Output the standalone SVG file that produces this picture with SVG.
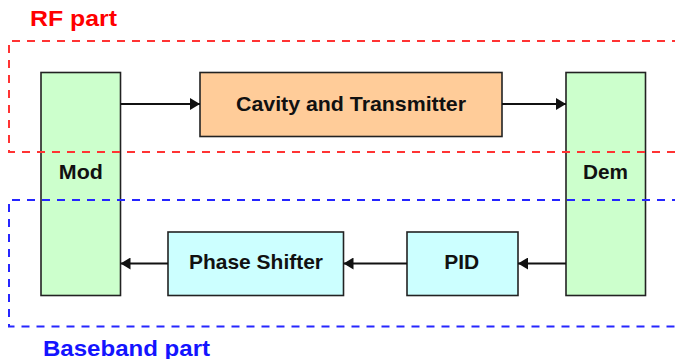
<svg xmlns="http://www.w3.org/2000/svg" width="675" height="359" viewBox="0 0 675 359">
  <style>
    .box { stroke: #222; stroke-width: 1.6; }
    .mod { fill: #CCFFCC; }
    .cav { fill: #FFCC99; }
    .bb { fill: #CCFFFF; }
    .lbl { font-family: "Liberation Sans", Arial, sans-serif; font-weight: bold; font-size: 20.5px; fill: #111; text-anchor: middle; }
    .title { font-family: "Liberation Sans", Arial, sans-serif; font-weight: bold; font-size: 22px; }
    .wire { stroke: #111; stroke-width: 2; fill: none; marker-end: url(#arrow); }
    .zone { fill: none; stroke-width: 2; stroke-dasharray: 8 7; }
  </style>
  <defs>
    <marker id="arrow" viewBox="0 0 10 12" refX="10" refY="6" markerWidth="10" markerHeight="12" markerUnits="userSpaceOnUse" orient="auto">
      <path d="M0,0 L10,6 L0,12 Z" fill="#111"/>
    </marker>
  </defs>
  <rect width="675" height="359" fill="#fff"/>

  <g id="mod">
    <rect class="box mod" x="41" y="72.5" width="79.5" height="223"/>
    <text class="lbl" x="80.8" y="179.3" textLength="44" lengthAdjust="spacingAndGlyphs">Mod</text>
  </g>
  <g id="cavity">
    <rect class="box cav" x="200" y="72.5" width="302" height="64"/>
    <text class="lbl" x="351" y="110.5" textLength="230" lengthAdjust="spacingAndGlyphs">Cavity and Transmitter</text>
  </g>
  <g id="dem">
    <rect class="box mod" x="566" y="72.5" width="79.5" height="223"/>
    <text class="lbl" x="605.5" y="179.3" textLength="45" lengthAdjust="spacingAndGlyphs">Dem</text>
  </g>
  <g id="pid">
    <rect class="box bb" x="407" y="232" width="111" height="63.5"/>
    <text class="lbl" x="461.7" y="268.7" textLength="35" lengthAdjust="spacingAndGlyphs">PID</text>
  </g>
  <g id="phase-shifter">
    <rect class="box bb" x="168" y="232" width="175.5" height="63.5"/>
    <text class="lbl" x="256" y="268.7" textLength="134" lengthAdjust="spacingAndGlyphs">Phase Shifter</text>
  </g>

  <g id="connectors">
    <line class="wire" x1="120.5" y1="104" x2="200" y2="104"/>
    <line class="wire" x1="502" y1="104" x2="566" y2="104"/>
    <line class="wire" x1="566" y1="263.5" x2="518" y2="263.5"/>
    <line class="wire" x1="407" y1="263.5" x2="343.5" y2="263.5"/>
    <line class="wire" x1="168" y1="263.5" x2="120.5" y2="263.5"/>
  </g>

  <g id="rf-zone">
    <path class="zone" stroke="#FF3333" d="M680,41 H9 V152 H680"/>
    <text class="title" x="30" y="26" fill="#FF0000" textLength="87" lengthAdjust="spacingAndGlyphs">RF part</text>
  </g>
  <g id="baseband-zone">
    <path class="zone" stroke="#2626FF" d="M680,200 H9 V326.5 H680"/>
    <text class="title" x="43" y="355.5" fill="#1414FF" textLength="167" lengthAdjust="spacingAndGlyphs">Baseband part</text>
  </g>
</svg>
